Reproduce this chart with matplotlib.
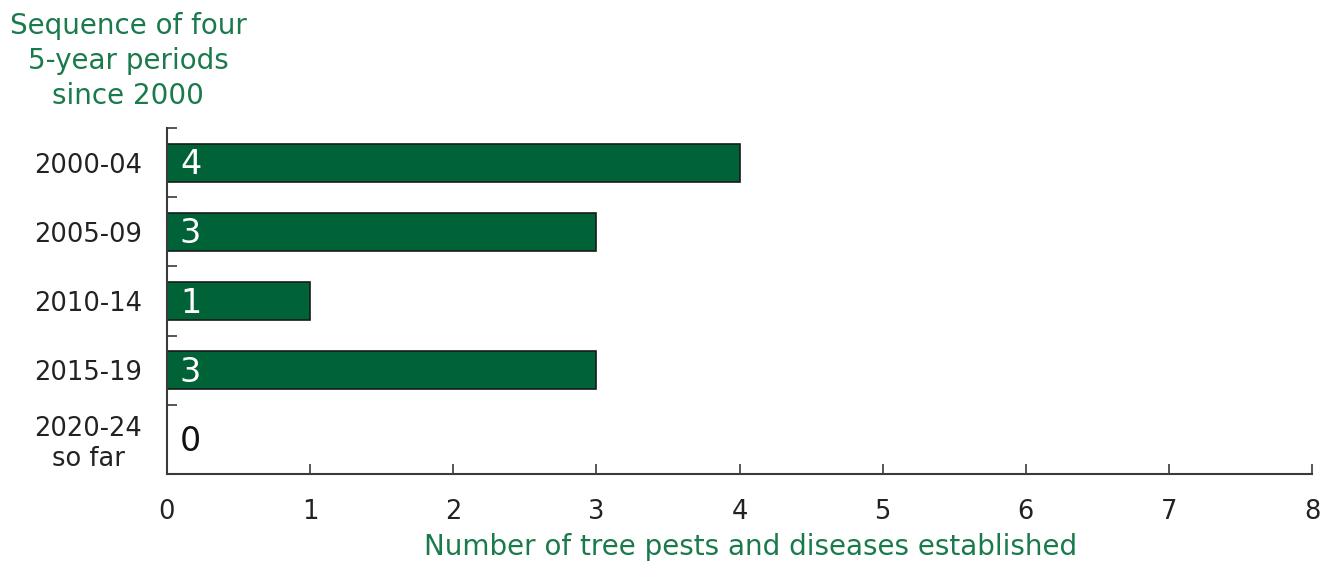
import matplotlib
matplotlib.use("Agg")
import matplotlib.pyplot as plt

# Tree pests and diseases established per 5-year period
periods = ["2000-04", "2005-09", "2010-14", "2015-19", "2020-24\nso far"]
counts = [4, 3, 1, 3, 0]
x_ticks = [0, 1, 2, 3, 4, 5, 6, 7, 8]

GREEN = "#006338"
TEXT_GREEN = "#1b7a4b"
AXIS = "#3a3a3a"

plt.rcParams["font.family"] = ["DejaVu Sans"]

fig = plt.figure(figsize=(13.38, 5.61), dpi=100)
ax = fig.add_axes([167 / 1338, 1 - 474 / 561, (1312 - 167) / 1338, (474 - 128) / 561])

ypos = list(range(len(periods)))
ax.barh(ypos, counts, height=0.55, color=GREEN, edgecolor="#1a1a1a", linewidth=1.2)

for y, v in zip(ypos, counts):
    col = "white" if v > 0 else "#111111"
    ax.text(0.09, y + 0.03, str(v), color=col, fontsize=24, ha="left", va="center")

ax.set_xlim(0, 8)
ax.set_ylim(len(periods) - 0.5, -0.5)
ax.set_xticks(x_ticks)
ax.set_xticklabels([str(t) for t in x_ticks])

# y ticks sit on the boundaries between periods, labels at the centres
ax.set_yticks([i - 0.5 for i in range(len(periods))], minor=False)
ax.set_yticklabels([])
ax.set_yticks(ypos, minor=True)
ax.set_yticklabels(periods, minor=True, multialignment="center")
ax.tick_params(axis="y", which="minor", length=0, pad=18, labelsize=18.5, labelcolor="#222222")
ax.tick_params(axis="y", which="major", direction="in", length=7, width=1.2, color=AXIS)
ax.tick_params(axis="x", direction="in", length=7, width=1.2, color=AXIS,
               pad=18, labelsize=18.5, labelcolor="#222222")

for side in ["top", "right"]:
    ax.spines[side].set_visible(False)
for side in ["left", "bottom"]:
    ax.spines[side].set_color(AXIS)
    ax.spines[side].set_linewidth(1.5)

ax.set_xlabel("Number of tree pests and diseases established", color=TEXT_GREEN,
              fontsize=20, va="top")
ax.xaxis.set_label_coords(0.51, -0.17)

fig.text(128 / 1338, 1 - 61 / 561, "Sequence of four\n5-year periods\nsince 2000",
         color=TEXT_GREEN, fontsize=20, ha="center", va="center", linespacing=1.3)

fig.savefig("out.png", dpi=100)
